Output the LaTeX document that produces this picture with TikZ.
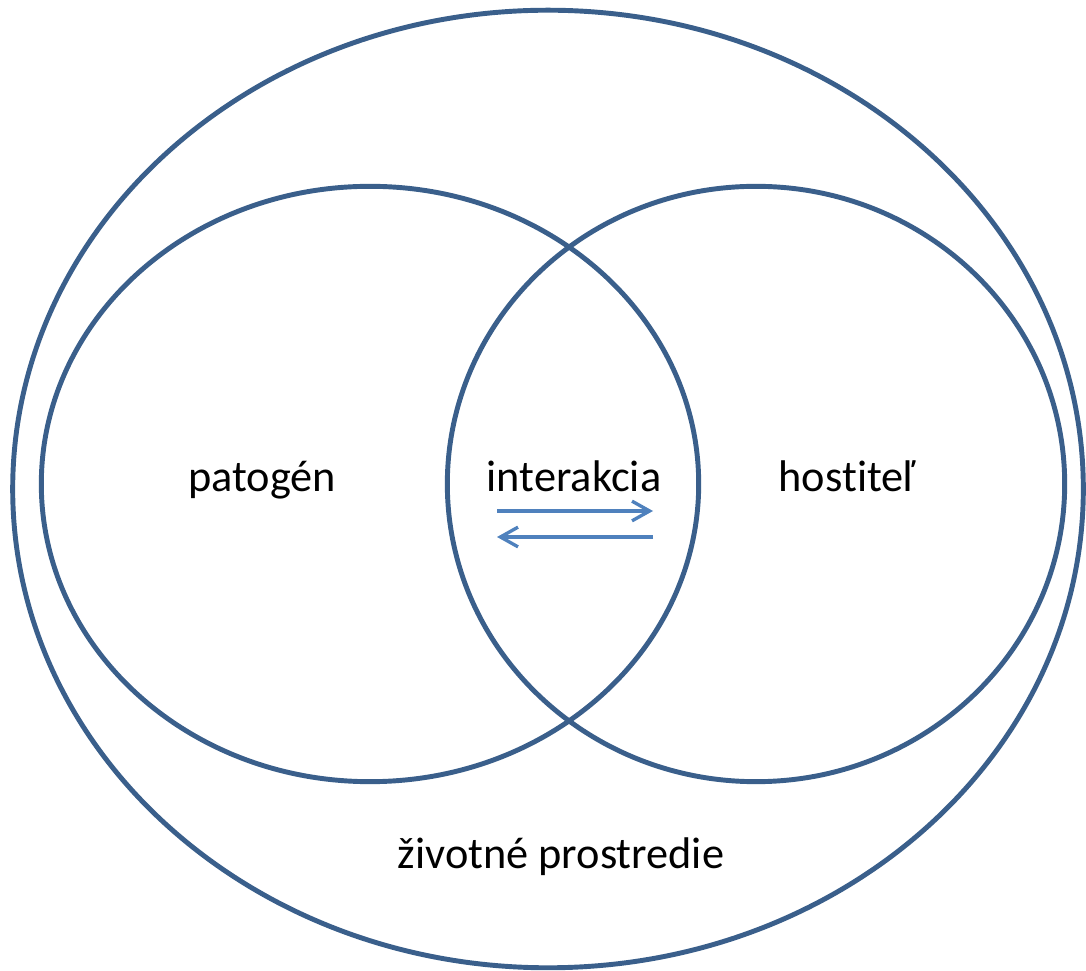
\documentclass[tikz,border=0pt]{standalone}
\usepackage{fontspec}
\setmainfont{Carlito}[Ligatures=NoCommon]
\usetikzlibrary{shapes.geometric,arrows.meta}
\definecolor{ringblue}{HTML}{3A5F8B}
\definecolor{arrowblue}{HTML}{4F81BD}
\tikzset{
  ring/.style={ellipse, draw=ringblue, line width=1.4pt, inner sep=0pt},
  lbl/.style={font=\fontsize{12.6}{15}\selectfont, inner sep=0pt, anchor=base},
  flow/.style={draw=arrowblue, line width=0.95pt, -{Straight Barb[length=5pt,width=5.6pt,line width=0.95pt]}}
}
\begin{document}
\begin{tikzpicture}[x=0.01cm,y=-0.01cm]
\useasboundingbox (0,0) rectangle (1086,971);
\node[ring, minimum width=10.70cm, minimum height=9.57cm] (env) at (548,489) {};
\node[ring, minimum width=6.57cm, minimum height=5.95cm] (pat) at (370,484) {};
\node[ring, minimum width=6.17cm, minimum height=5.95cm] (host) at (756,484) {};
\node[lbl] (tpat) at (262,492) {patogén};
\node[lbl] (tint) at (574,492) {interakcia};
\node[lbl] (thost) at (847,492) {hostiteľ};
\node[lbl] (tenv) at (561,868) {životné prostredie};
\coordinate (a1) at (497,511);
\coordinate (a2) at (653,511);
\coordinate (b1) at (653,537);
\coordinate (b2) at (497,537);
\draw[flow] (a1) -- (a2);
\draw[flow] (b1) -- (b2);
\end{tikzpicture}
\end{document}
